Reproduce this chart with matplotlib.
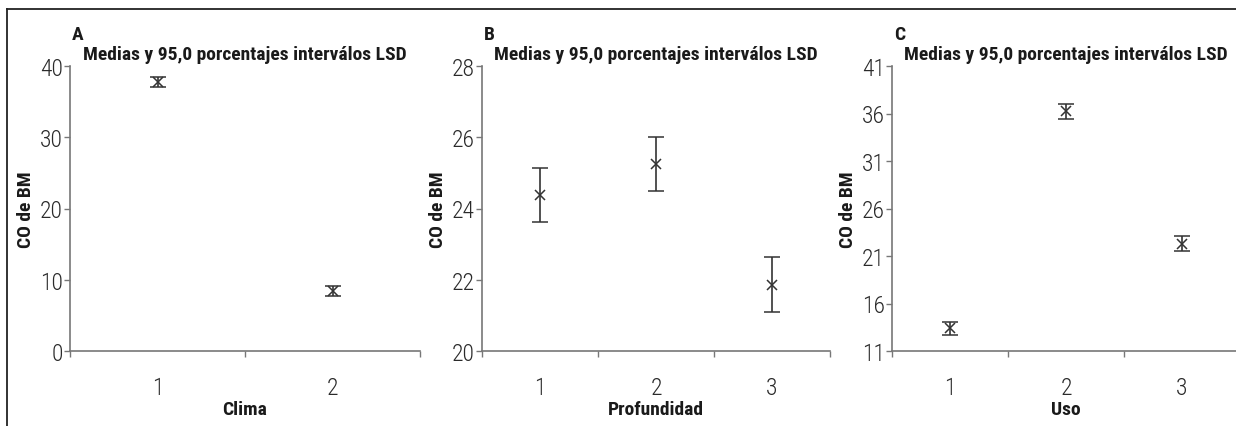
import matplotlib
matplotlib.use("Agg")
import matplotlib.pyplot as plt
from matplotlib.lines import Line2D

plt.rcParams['font.family'] = ['Roboto Condensed', 'Archivo Narrow', 'Liberation Sans', 'DejaVu Sans']

# Panel A: Clima
clima_cats = ['1', '2']
clima_mean = [37.8, 8.4]
clima_err = [0.7, 0.75]

# Panel B: Profundidad
prof_cats = ['1', '2', '3']
prof_mean = [24.38, 25.25, 21.86]
prof_err = [0.75, 0.76, 0.77]

# Panel C: Uso
uso_cats = ['1', '2', '3']
uso_mean = [13.4, 36.25, 22.28]
uso_err = [0.7, 0.8, 0.78]

title = 'Medias y 95,0 porcentajes interválos LSD'
ylabel = 'CO de BM'

panels = [
    ('A', clima_cats, clima_mean, clima_err, 'Clima', (0, 40), [0, 10, 20, 30, 40]),
    ('B', prof_cats, prof_mean, prof_err, 'Profundidad', (20, 28), [20, 22, 24, 26, 28]),
    ('C', uso_cats, uso_mean, uso_err, 'Uso', (11, 41), [11, 16, 21, 26, 31, 36, 41]),
]

W, H = 1236, 427
fig = plt.figure(figsize=(W / 100, H / 100), dpi=100)

# axes rectangles in pixels: left, right
boxes = [(70, 420), (482, 830), (892, 1240)]
top_px, bot_px = 67, 352

spine_col = '#777777'
text_col = '#2a2a2a'

for (letter, cats, mean, err, xlab, ylim, yticks), (l, r) in zip(panels, boxes):
    ax = fig.add_axes([l / W, 1 - bot_px / H, (r - l) / W, (bot_px - top_px) / H])
    x = list(range(len(cats)))
    ax.errorbar(x, mean, yerr=err, fmt='x', color='#333333', ecolor='#333333',
                elinewidth=1.2, capsize=5.5, capthick=1.2, markersize=7.5, mew=1.1)
    ax.set_xlim(-0.5, len(cats) - 0.5)
    ax.set_ylim(*ylim)
    ax.set_yticks(yticks)
    ax.set_yticklabels([str(v) for v in yticks], fontweight='light')
    # category boundaries get the tick marks, labels sit between them
    ax.set_xticks([i + 0.5 for i in range(-1, len(cats))])
    ax.set_xticklabels([])
    ax.set_xticks(x, minor=True)
    ax.set_xticklabels(cats, minor=True, fontweight='light')
    ax.tick_params(axis='x', which='major', length=4, width=1, color=spine_col, direction='out')
    ax.tick_params(axis='x', which='minor', length=0, pad=18, labelsize=17, labelcolor=text_col)
    ax.tick_params(axis='y', length=4, width=1, color=spine_col, labelsize=17,
                   labelcolor=text_col, pad=1)
    for s in ['top', 'right']:
        ax.spines[s].set_visible(False)
    for s in ['left', 'bottom']:
        ax.spines[s].set_color(spine_col)
        ax.spines[s].set_linewidth(1.2)
    ax.set_title(title, fontsize=14, fontweight='bold', color='#1a1a1a', pad=5)
    ax.set_xlabel(xlab, fontsize=14, fontweight='bold', color='#1a1a1a', labelpad=1)
    ax.set_ylabel(ylabel, fontsize=14, fontweight='bold', color='#1a1a1a')
    ax.yaxis.set_label_coords(-0.1, 0.5)
    fig.text((l + 2) / W, 1 - 35 / H, letter, fontsize=14, fontweight='bold',
             color='#1a1a1a', va='center', ha='left')

# frame lines round the figure
fig.add_artist(Line2D([7 / W, 1], [1 - 10 / H, 1 - 10 / H], color='#222222', lw=1.3,
                      transform=fig.transFigure))
fig.add_artist(Line2D([7 / W, 7 / W], [0, 1 - 10 / H], color='#222222', lw=1.3,
                      transform=fig.transFigure))

fig.savefig('out.png', dpi=100)
